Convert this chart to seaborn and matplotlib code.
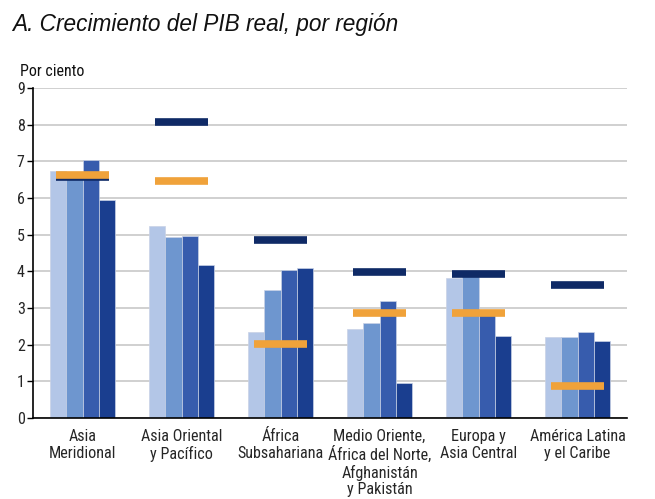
import matplotlib
matplotlib.use("Agg")
import matplotlib.pyplot as plt
from matplotlib import font_manager
import seaborn as sns
import pandas as pd
import numpy as np

categories = ["Asia\nMeridional", "Asia Oriental\ny Pacífico", "África\nSubsahariana",
              "Medio Oriente,\nÁfrica del Norte,\nAfghanistán\ny Pakistán",
              "Europa y\nAsia Central", "América Latina\ny el Caribe"]
series = ["s1", "s2", "s3", "s4"]
v1 = [6.74, 5.25, 2.35, 2.44, 3.82, 2.22]
v2 = [6.52, 4.95, 3.50, 2.60, 3.88, 2.20]
v3 = [7.05, 4.97, 4.05, 3.20, 2.80, 2.35]
v4 = [5.95, 4.16, 4.10, 0.95, 2.25, 2.11]
navy_marks = [6.57, 8.08, 4.86, 3.99, 3.94, 3.64]
orange_marks = [6.62, 6.47, 2.03, 2.87, 2.87, 0.88]
yticks = [0, 1, 2, 3, 4, 5, 6, 7, 8, 9]

bar_colors = ["#b3c6e7", "#6e96cf", "#375cad", "#1a3e8f"]
navy = "#0f2a66"
orange = "#f0a23a"

sns.set_theme(style="white")
plt.rcParams["font.family"] = ["DejaVu Sans"]

# pick a condensed face if one is installed
names = {f.name for f in font_manager.fontManager.ttflist}
cond_fam = None
for cand in ["Liberation Sans Narrow", "Roboto Condensed", "Open Sans Condensed",
             "DejaVu Sans Condensed"]:
    if cand in names:
        cond_fam = cand
        break
if cond_fam is None:
    cond_kw = dict(family="DejaVu Sans", stretch="condensed")
else:
    cond_kw = dict(family=cond_fam)

df = pd.DataFrame({
    "region": categories * 4,
    "serie": sum([[s] * len(categories) for s in series], []),
    "valor": v1 + v2 + v3 + v4,
})

fig = plt.figure(figsize=(6.55, 4.99), dpi=100)
ax = fig.add_axes([33 / 655, 1 - 418 / 499, 594 / 655, 330 / 499])

sns.barplot(data=df, x="region", y="valor", hue="serie", order=categories,
            hue_order=series, palette=bar_colors, saturation=1, width=0.65, gap=0,
            edgecolor="#c9d2e6", linewidth=0.5, legend=False, ax=ax, zorder=2)

xs = np.arange(len(categories))
hw = 0.27
ax.hlines(navy_marks, xs - hw, xs + hw, colors=navy, linewidth=5.5, zorder=3)
ax.hlines(orange_marks, xs - hw, xs + hw, colors=orange, linewidth=5.5, zorder=4)

ax.set_xlim(-0.5, len(categories) - 0.5)
ax.set_ylim(0, 9)
ax.set_yticks(yticks)
ax.set_yticklabels([str(t) for t in yticks], fontsize=11.5, **cond_kw)
ax.set_xticks(xs)
ax.set_xticklabels(categories, fontsize=11.6, linespacing=1.12, **cond_kw)
ax.set_xlabel("")
ax.set_ylabel("")
ax.yaxis.grid(True, color="#c8c8c8", linewidth=1.2, zorder=0)
ax.set_axisbelow(True)
for s in ["top", "right"]:
    ax.spines[s].set_visible(False)
ax.spines["left"].set_color("black")
ax.spines["bottom"].set_color("black")
ax.spines["left"].set_linewidth(1.2)
ax.spines["bottom"].set_linewidth(1.2)
ax.tick_params(axis="y", which="both", left=True, length=4, width=1, color="black", pad=2)
ax.tick_params(axis="x", bottom=False, pad=2)

fig.text(12 / 655, 1 - 25 / 499, "A. Crecimiento del PIB real, por región",
         fontsize=16.3, style="italic", family="Liberation Sans", va="center", color="#111111")
fig.text(20 / 655, 1 - 72 / 499, "Por ciento", fontsize=11.5,
         va="center", color="#111111", **cond_kw)

fig.savefig("out.png", dpi=100)
